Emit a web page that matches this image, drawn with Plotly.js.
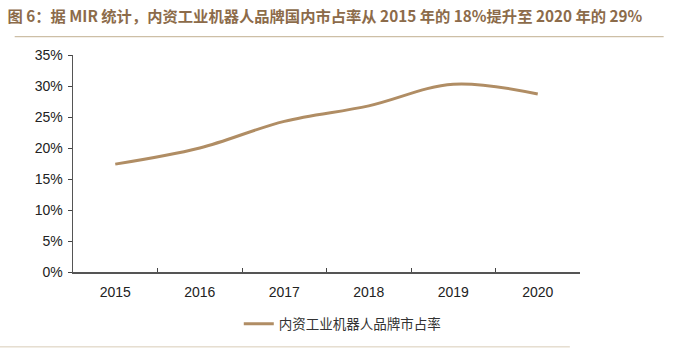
<!DOCTYPE html>
<html>
<head>
<meta charset="utf-8">
<script src="https://cdn.plot.ly/plotly-3.0.1.min.js"></script>
<style>html,body{margin:0;padding:0;background:#fff;}#chart{width:677px;height:351px;}</style>
</head>
<body>
<div id="chart"></div>
<script>
const years = ['2015', '2016', '2017', '2018', '2019', '2020'];
const share = [0.174, 0.200, 0.243, 0.268, 0.303, 0.287];
const seriesName = '内资工业机器人品牌市占率';
const chartTitle = '图 6：据 MIR 统计，内资工业机器人品牌国内市占率从 2015 年的 18%提升至 2020 年的 29%';

const trace = {
  x: years,
  y: share,
  type: 'scatter',
  mode: 'lines',
  name: seriesName,
  line: {color: '#B08D64', width: 3, shape: 'spline', smoothing: 1},
  showlegend: true
};

const layout = {
  width: 677,
  height: 351,
  margin: {l: 73, r: 97, t: 55, b: 76},
  paper_bgcolor: '#fff',
  plot_bgcolor: '#fff',
  font: {family: 'Liberation Sans, Arial, sans-serif', size: 14, color: '#222'},
  title: {
    text: '<b>' + chartTitle + '</b>',
    font: {family: 'Noto Sans CJK SC, sans-serif', size: 15.3, color: '#8C6B4A'},
    x: 0.011, xanchor: 'left', xref: 'container',
    y: 0.952, yanchor: 'middle', yref: 'container'
  },
  xaxis: {
    type: 'category',
    range: [-0.5, 5.5],
    tickson: 'boundaries',
    ticks: 'inside',
    ticklen: 4,
    tickcolor: '#444',
    showline: true,
    linecolor: '#555',
    linewidth: 1.5,
    showgrid: false,
    zeroline: false,
    ticklabelstandoff: 7,
    tickfont: {size: 14, color: '#222'},
    fixedrange: true
  },
  yaxis: {
    range: [0, 0.35],
    dtick: 0.05,
    tickformat: '.0%',
    ticks: 'outside',
    ticklen: 4,
    tickcolor: '#444',
    showline: true,
    linecolor: '#555',
    linewidth: 1.5,
    showgrid: false,
    zeroline: false,
    ticklabelstandoff: 2,
    tickfont: {size: 14, color: '#222'},
    fixedrange: true
  },
  legend: {
    orientation: 'h',
    x: 0.327, xanchor: 'left',
    y: -0.24, yanchor: 'middle',
    font: {family: 'Noto Sans CJK SC, sans-serif', size: 13.5, color: '#333'},
    bgcolor: 'rgba(0,0,0,0)'
  },
  shapes: [
    {type: 'line', xref: 'paper', yref: 'paper', x0: -0.115, x1: 1.165, y0: 1.085, y1: 1.085,
     line: {color: '#CDBFA6', width: 1.2}},
    {type: 'line', xref: 'paper', yref: 'paper', x0: -0.144, x1: 0.98, y0: -0.345, y1: -0.345,
     line: {color: '#D8CCB8', width: 1}}
  ]
};

Plotly.newPlot('chart', [trace], layout, {displayModeBar: false, staticPlot: true});
</script>
</body>
</html>
